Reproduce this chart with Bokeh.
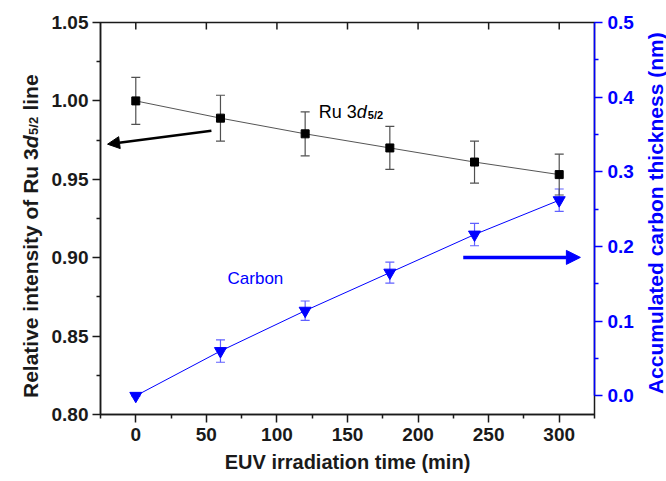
import math
from bokeh.plotting import figure
from bokeh.layouts import row
from bokeh.models import (Range1d, LinearAxis, FixedTicker, NumeralTickFormatter,
                          ColumnDataSource, Whisker, TeeHead, Arrow, NormalHead, Label)
from bokeh.embed import file_html
from bokeh.resources import INLINE

# ---------------- data ----------------
time_min = [0, 60, 120, 180, 240, 300]
ru_intensity = [1.000, 0.989, 0.979, 0.970, 0.961, 0.953]
ru_error = [0.015, 0.0146, 0.014, 0.0137, 0.0134, 0.013]
carbon_nm = [0.0, 0.060, 0.114, 0.165, 0.216, 0.262]
carbon_error = [0.0, 0.015, 0.013, 0.014, 0.015, 0.015]

x_ticks = [0, 50, 100, 150, 200, 250, 300]
x_minor = [-25, 25, 75, 125, 175, 225, 275, 325]
left_ticks = [0.80, 0.85, 0.90, 0.95, 1.00, 1.05]
left_minor = [0.825, 0.875, 0.925, 0.975, 1.025]
right_ticks = [0.0, 0.1, 0.2, 0.3, 0.4, 0.5]
right_minor = [0.05, 0.15, 0.25, 0.35, 0.45]

FONT = "Liberation Sans"
BLUE = "#0000ff"
DARK = "#1a1a1a"
H = 481
LEFT_W, MAIN_W, RIGHT_W = 44, 592, 30
Y_LO, Y_HI = 0.80, 1.05

p = figure(width=MAIN_W, height=H,
           x_range=Range1d(-25, 325), y_range=Range1d(Y_LO, Y_HI),
           output_backend="svg", toolbar_location=None,
           min_border_left=56, min_border_right=42,
           min_border_top=22, min_border_bottom=67)
p.extra_y_ranges = {"right": Range1d(-0.025, 0.5)}
p.grid.visible = False
p.outline_line_color = DARK
p.outline_line_width = 1.5
p.background_fill_color = "white"
p.border_fill_color = "white"


def style_axis(ax, color):
    ax.axis_line_color = color
    ax.axis_line_width = 1.5
    ax.major_tick_line_color = color
    ax.minor_tick_line_color = color
    ax.major_tick_line_width = 1.5
    ax.minor_tick_line_width = 1.5
    ax.major_tick_out = 8
    ax.major_tick_in = 0
    ax.minor_tick_out = 4
    ax.minor_tick_in = 0
    ax.major_label_text_font = FONT
    ax.major_label_text_font_style = "bold"
    ax.major_label_text_font_size = "19px"
    ax.major_label_text_color = color
    ax.major_label_standoff = 4
    ax.axis_label_text_font = FONT
    ax.axis_label_text_font_style = "bold"
    ax.axis_label_text_font_size = "20px"
    ax.axis_label_text_color = color


xa = p.xaxis[0]
style_axis(xa, DARK)
xa.ticker = FixedTicker(ticks=x_ticks, minor_ticks=x_minor)
xa.major_label_standoff = 5
xa.axis_label = "EUV irradiation time (min)"
xa.axis_label_standoff = 7

ya = p.yaxis[0]
style_axis(ya, DARK)
ya.ticker = FixedTicker(ticks=left_ticks, minor_ticks=left_minor)
ya.formatter = NumeralTickFormatter(format="0.00")

ra = LinearAxis(y_range_name="right", bounds=(0, 0.5))
style_axis(ra, BLUE)
ra.ticker = FixedTicker(ticks=right_ticks, minor_ticks=right_minor)
ra.formatter = NumeralTickFormatter(format="0.0")
ra.major_label_standoff = 5
p.add_layout(ra, "right")

# inward ticks along the top edge of the frame (clipped half of a vertical dash)
p.scatter(x=x_ticks, y=[Y_HI] * len(x_ticks), marker="dash", angle=math.pi / 2,
          size=14, line_color=DARK, line_width=1.5)

# ---------------- series ----------------
ru_src = ColumnDataSource(dict(
    x=time_min, y=ru_intensity,
    lo=[v - e for v, e in zip(ru_intensity, ru_error)],
    hi=[v + e for v, e in zip(ru_intensity, ru_error)]))
c_src = ColumnDataSource(dict(
    x=time_min, y=carbon_nm,
    lo=[v - e for v, e in zip(carbon_nm, carbon_error)],
    hi=[v + e for v, e in zip(carbon_nm, carbon_error)]))

p.add_layout(Whisker(source=c_src, base="x", lower="lo", upper="hi",
                     y_range_name="right", line_color="#6060ff", line_width=1.2,
                     lower_head=TeeHead(size=9, line_color="#6060ff", line_width=1.2),
                     upper_head=TeeHead(size=9, line_color="#6060ff", line_width=1.2)))
p.add_layout(Whisker(source=ru_src, base="x", lower="lo", upper="hi",
                     line_color="#505050", line_width=1.2,
                     lower_head=TeeHead(size=9, line_color="#505050", line_width=1.2),
                     upper_head=TeeHead(size=9, line_color="#505050", line_width=1.2)))

p.line("x", "y", source=c_src, y_range_name="right", line_color=BLUE, line_width=1)
p.scatter("x", "y", source=c_src, y_range_name="right", marker="inverted_triangle",
          size=12, fill_color=BLUE, line_color=BLUE)

p.line("x", "y", source=ru_src, line_color="#555555", line_width=1)
p.scatter("x", "y", source=ru_src, marker="square", size=8,
          fill_color="black", line_color="black")

# ---------------- annotations ----------------
p.add_layout(Arrow(x_start=53.6, y_start=0.981, x_end=-20.0, y_end=0.9724,
                   line_color="black", line_width=2.5,
                   end=NormalHead(size=12, fill_color="black", line_color="black")))
p.add_layout(Arrow(x_start=232.0, y_start=0.9002, x_end=315.0, y_end=0.9002,
                   line_color=BLUE, line_width=3.5,
                   end=NormalHead(size=14, fill_color=BLUE, line_color=BLUE)))

RU_X, RU_Y = 129.7, 0.9927
p.add_layout(Label(x=RU_X, y=RU_Y, text="Ru 3", text_font=FONT, text_font_size="18px",
                   text_color="black", text_baseline="alphabetic"))
p.add_layout(Label(x=RU_X, y=RU_Y, x_offset=38.0, text="d", text_font=FONT,
                   text_font_size="18px", text_font_style="italic",
                   text_color="black", text_baseline="alphabetic"))
p.add_layout(Label(x=RU_X, y=RU_Y, x_offset=49.0, y_offset=-3, text="5/2", text_font=FONT,
                   text_font_size="11px", text_font_style="bold",
                   text_color="black", text_baseline="alphabetic"))

p.add_layout(Label(x=65, y=0.8868, text="Carbon", text_font=FONT, text_font_size="17px",
                   text_color=BLUE, text_baseline="alphabetic"))


# ---------------- side panels holding the vertical axis titles ----------------
# Their frames are aligned with the main frame, so they share its y range.
def text_panel(w):
    f = figure(width=w, height=H, x_range=Range1d(0, w), y_range=p.y_range,
               output_backend="svg", toolbar_location=None, min_border=0,
               x_axis_type=None, y_axis_type=None)
    f.outline_line_color = None
    f.background_fill_color = "white"
    f.border_fill_color = "white"
    return f


left_panel = text_panel(LEFT_W)
FS, SUB = 21, 13
w_main = 11.892 * FS
w_d = 0.611 * FS
w_sub = 1.390 * SUB
w_space = 0.278 * FS
w_line = 1.723 * FS
total = w_main + w_d + w_sub + w_space + w_line
BASE_X, LEFT_MID = 30, 0.9134
start = -total / 2
pieces = [
    ("Relative intensity of Ru 3", FS, "bold", 0, start),
    ("d", FS, "bold italic", 0, start + w_main),
    ("5/2", SUB, "bold", 3, start + w_main + w_d + 0.5),
    ("line", FS, "bold", 0, start + w_main + w_d + w_sub + w_space + 1),
]
for txt, fs, style, dx, off in pieces:
    left_panel.add_layout(Label(x=BASE_X + dx, y=LEFT_MID, y_offset=off, angle=math.pi / 2,
                                text=txt, text_font=FONT, text_font_size=f"{fs}px",
                                text_font_style=style, text_color=DARK,
                                text_align="left", text_baseline="alphabetic"))

right_panel = text_panel(RIGHT_W)
right_panel.add_layout(Label(x=19, y=0.9284, angle=math.pi / 2,
                             text="Accumulated carbon thickness (nm)",
                             text_font=FONT, text_font_size="21px", text_font_style="bold",
                             text_color=BLUE, text_align="center",
                             text_baseline="alphabetic"))

layout = row(left_panel, p, right_panel, spacing=0)
open("out.html", "w").write(file_html(layout, INLINE))
